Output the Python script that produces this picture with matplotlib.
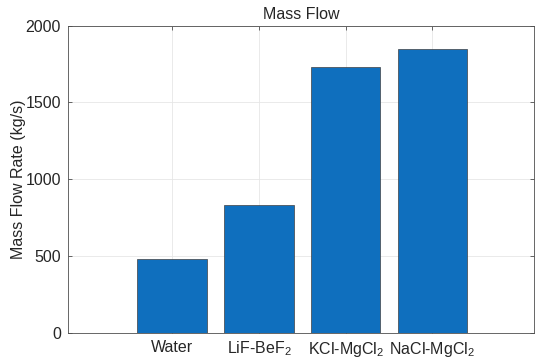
import numpy as np
import matplotlib
matplotlib.use("Agg")
import matplotlib.pyplot as plt

plt.rcParams['font.family'] = ['Liberation Sans', 'DejaVu Sans']
plt.rcParams['mathtext.fontset'] = 'custom'
plt.rcParams['mathtext.rm'] = 'Liberation Sans'
plt.rcParams['mathtext.it'] = 'Liberation Sans:italic'

# data
categories = ['Water', 'LiF-BeF$_2$', 'KCl-MgCl$_2$', 'NaCl-MgCl$_2$']
mass_flow = [477, 829, 1731, 1850]
yticks = [0, 500, 1000, 1500, 2000]

fig = plt.figure(figsize=(5.35, 3.58), dpi=100)
ax = fig.add_axes([0.127, 0.0707, 0.871, 0.858])

pos = np.arange(1, len(categories) + 1)
ax.bar(pos, mass_flow, width=0.8, color='#0F6FBE', edgecolor='#404040',
       linewidth=0.5, zorder=3)

ax.set_xlim(-0.2, 5.17)
ax.set_ylim(0, 2000)
ax.set_xticks(pos)
ax.set_xticklabels(categories)
ax.set_yticks(yticks)

ax.grid(True, color='#e6e6e6', linewidth=0.6, zorder=0)
ax.tick_params(direction='in', length=3, width=0.6, color='#4d4d4d',
               labelsize=11.5, labelcolor='#262626', top=True, right=True, pad=5)
for s in ax.spines.values():
    s.set_color('#4d4d4d')
    s.set_linewidth(0.6)

ax.set_ylabel('Mass Flow Rate (kg/s)', fontsize=11.5, color='#262626', labelpad=0)
ax.set_title('Mass Flow', fontsize=11.5, color='#262626', pad=5)

fig.savefig('out.png', dpi=100)
